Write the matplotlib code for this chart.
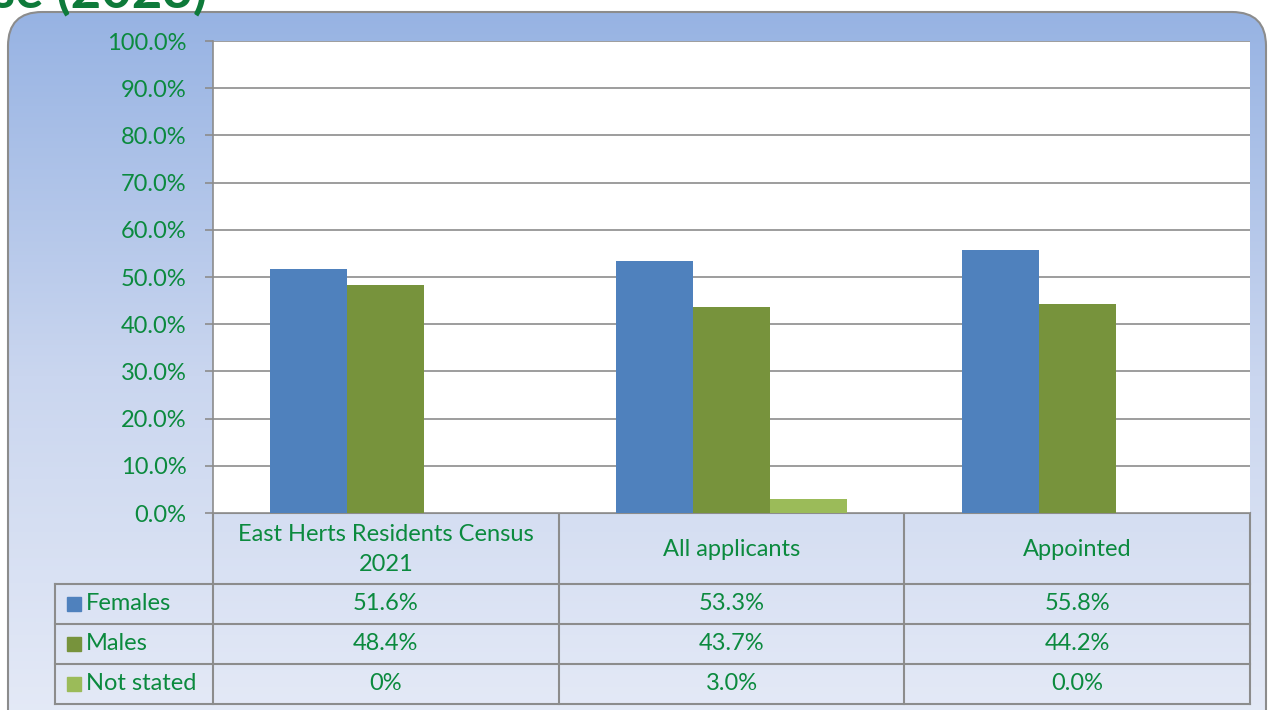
import matplotlib
matplotlib.use("Agg")
import matplotlib.pyplot as plt
import numpy as np
from matplotlib.patches import FancyBboxPatch, Rectangle
from matplotlib.colors import LinearSegmentedColormap

# data
categories = ["East Herts Residents Census\n2021", "All applicants", "Appointed"]
series_names = ["Females", "Males", "Not stated"]
females = [51.6, 53.3, 55.8]
males = [48.4, 43.7, 44.2]
not_stated = [0.0, 3.0, 0.0]
# the table shows the labels exactly as typed in the source sheet
females_lbl = ["51.6%", "53.3%", "55.8%"]
males_lbl = ["48.4%", "43.7%", "44.2%"]
not_stated_lbl = ["0%", "3.0%", "0.0%"]

colors = ["#4F81BD", "#77933C", "#9BBB59"]
green = "#0B8A3E"
grid_c = "#8C8C8C"
fs = 17

plt.rcParams['font.family'] = ['Lato', 'DejaVu Sans']

W, H = 1268, 710
fig = plt.figure(figsize=(W / 100, H / 100), dpi=100)

# background axes in pixel coordinates
bg = fig.add_axes([0, 0, 1, 1])
bg.set_xlim(0, W)
bg.set_ylim(H, 0)
bg.axis("off")

# gradient panel with rounded corners
cmap = LinearSegmentedColormap.from_list("bg", ["#97B3E3", "#CAD6EF", "#E6EBF7"])
grad = np.linspace(0, 1, 256).reshape(-1, 1)
im = bg.imshow(grad, cmap=cmap, aspect="auto", extent=[8, 1266, 740, 12], zorder=0)
frame = FancyBboxPatch((8, 12), 1258, 740, boxstyle="round,pad=0,rounding_size=34",
                       facecolor="none", edgecolor=grid_c, lw=1.5, zorder=1)
bg.add_patch(frame)
im.set_clip_path(frame)

# title of the slide, cut off by the top edge as in the source
bg.text(-8, 8, "se (2023)", color="#0E7A3A", fontsize=38, fontweight="bold",
        ha="left", va="baseline", zorder=2)

# plot area
px_l, px_r, px_t, px_b = 213, 1250, 41, 513
ax = fig.add_axes([px_l / W, 1 - px_b / H, (px_r - px_l) / W, (px_b - px_t) / H])
ax.set_facecolor("white")
x = np.arange(len(categories))
w = 0.223
for i, (vals, c) in enumerate(zip([females, males, not_stated], colors)):
    ax.bar(x + (i - 1) * w, vals, w, color=c, zorder=3, label=series_names[i])
ax.set_xlim(-0.5, len(categories) - 0.5)
ax.set_ylim(0, 100)
ax.set_yticks(np.arange(0, 101, 10))
ax.set_yticklabels(["%.1f%%" % v for v in np.arange(0, 101, 10)], color=green, fontsize=fs)
ax.yaxis.grid(True, color=grid_c, lw=1.2, zorder=0)
ax.tick_params(axis="y", length=6, width=1.2, color=grid_c, pad=13)
ax.set_xticks([])
for s in ["top", "right", "bottom"]:
    ax.spines[s].set_visible(False)
ax.spines["left"].set_color(grid_c)
ax.spines["left"].set_linewidth(1.2)

# data table below the plot area, drawn in pixel coordinates
col_w = (px_r - px_l) / len(categories)
col_edges = [px_l + k * col_w for k in range(len(categories) + 1)]
row_edges = [px_b, 584, 624, 664, 704]
left_col = 55
lw = 1.5

for xe in col_edges:
    bg.plot([xe, xe], [row_edges[0], row_edges[-1]], color=grid_c, lw=lw, zorder=3)
bg.plot([px_l, px_r], [row_edges[0], row_edges[0]], color=grid_c, lw=lw, zorder=3)
for yr in row_edges[1:]:
    bg.plot([left_col, px_r], [yr, yr], color=grid_c, lw=lw, zorder=3)
bg.plot([left_col, left_col], [row_edges[1], row_edges[-1]], color=grid_c, lw=lw, zorder=3)

for k, cat in enumerate(categories):
    cx = (col_edges[k] + col_edges[k + 1]) / 2
    bg.text(cx, (row_edges[0] + row_edges[1]) / 2 + 1, cat, ha="center", va="center",
            color=green, fontsize=fs, linespacing=1.55, zorder=4)

for r, (name, lbls, c) in enumerate(zip(series_names, [females_lbl, males_lbl, not_stated_lbl], colors)):
    cy = (row_edges[r + 1] + row_edges[r + 2]) / 2
    bg.add_patch(Rectangle((67, cy - 7), 14, 14, color=c, zorder=4))
    bg.text(86, cy, name, ha="left", va="center", color=green, fontsize=fs, zorder=4)
    for k, lbl in enumerate(lbls):
        cx = (col_edges[k] + col_edges[k + 1]) / 2
        bg.text(cx, cy, lbl, ha="center", va="center", color=green, fontsize=fs, zorder=4)

fig.savefig("out.png", dpi=100)
